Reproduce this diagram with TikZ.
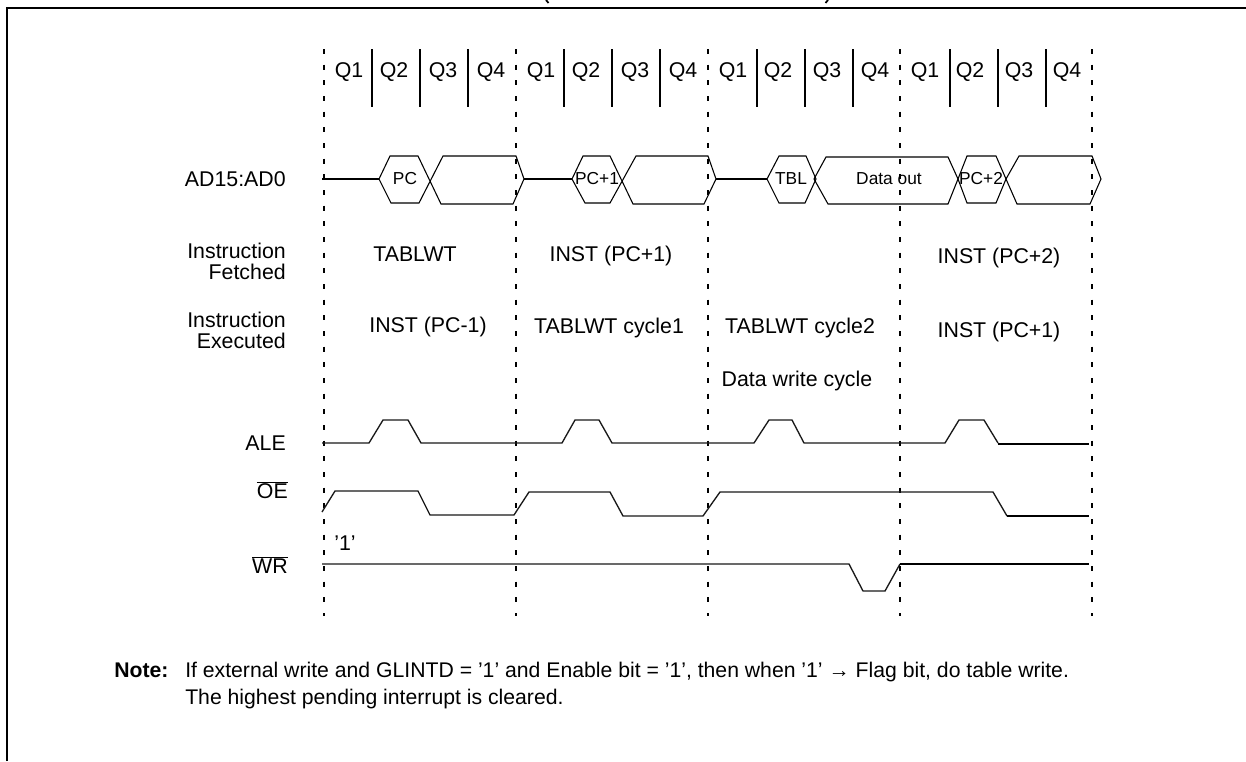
\documentclass[tikz,border=0pt]{standalone}
\usepackage{fontspec}
\setmainfont{Liberation Sans}
\tikzset{
  sig/.style={line width=1pt,line join=miter,black!90},
  thick bus/.style={line width=1.6pt},
  thin bus/.style={line width=0.8pt},
  clock/.style={line width=1.5pt,dash pattern=on 3.75pt off 8pt},
  qsep/.style={line width=1.3pt},
  lbl/.style={inner sep=0pt,font=\fontsize{16pt}{15.75pt}\selectfont},
  rlbl/.style={lbl,anchor=east,align=right},
  small/.style={inner sep=0pt,font=\fontsize{13pt}{14pt}\selectfont},
  notetext/.style={anchor=base west,inner sep=0pt,font=\fontsize{15.9pt}{16pt}\selectfont},
}
\begin{document}
\begin{tikzpicture}[x=0.75pt,y=-0.75pt]
\useasboundingbox (0,0) rectangle (1246,761);
% frame
\coordinate (f1) at (7,761); \coordinate (f2) at (7,8); \coordinate (f3) at (1246,8);
\draw[line width=1.5pt] (f1) -- (f2) -- (f3);
% clipped title brackets at the top edge
\draw[line width=1.3pt] (546,0) -- (548.5,3);
\draw[line width=1.3pt] (828,0) -- (825.5,3);
% clock lines
\foreach \x in {324,516,708,900,1092} \draw[clock] (\x,49) -- (\x,616);
% Q separators
\foreach \x in {372,420,468,564,612,660,757,805,853,950,998,1046} \draw[qsep] (\x,49) -- (\x,107);
% Q labels
\foreach \o/\c in {0/1,192/2,384/3,576/4} {
  \node[lbl] (qa\c) at (349+\o,72) {Q1};
  \node[lbl] (qb\c) at (394+\o,72) {Q2};
  \node[lbl] (qc\c) at (443+\o,72) {Q3};
  \node[lbl] (qd\c) at (491+\o,72) {Q4};
}
% bus
\draw[thick bus] (322,179) -- (379,179);
\draw[thick bus] (524,179) -- (572,179);
\draw[thick bus] (716,179) -- (767,179);
\draw[thin bus] (379,179) -- (390,156) -- (418,156) -- (441,204) -- (513,204) -- (524,179) -- (516,156) -- (443,156) -- (419,203) -- (391,203) -- cycle;
\draw[thin bus] (572,179) -- (583,156) -- (610,156) -- (633,204) -- (704,204) -- (716,179) -- (708,156) -- (636,156) -- (610,203) -- (585,203) -- cycle;
\draw[thin bus] (767,179) -- (779,156) -- (806,156) -- (816,179) -- (805,203) -- (779,203) -- cycle;
\draw[thin bus] (814,179) -- (826,157) -- (948,157) -- (958,179) -- (948,204) -- (828,204) -- cycle;
\draw[thin bus] (958,179) -- (967,156) -- (996,156) -- (1006,179) -- (996,203) -- (967,203) -- cycle;
\draw[thin bus] (1006,179) -- (1019,156) -- (1092,156) -- (1101,179) -- (1090,204) -- (1017,204) -- cycle;
\node[small] (pc) at (405,179) {PC};
\node[small] (pc1) at (597,179) {PC+1};
\node[small] (tbl) at (791,179) {TBL};
\node[small] (dout) at (889,179) {Data out};
\node[small] (pc2) at (981,179) {PC+2};
% row labels
\node[rlbl] (ad) at (286,179) {AD15:AD0};
\node[rlbl] (fet) at (286,261) {Instruction\\Fetched};
\node[rlbl] (exe) at (286,330) {Instruction\\Executed};
\node[rlbl] (ale) at (286,443) {ALE};
\node[rlbl] (oe) at (288,490) {$\overline{\mbox{OE}}$};
\node[rlbl] (wr) at (288,565) {$\overline{\mbox{WR}}$};
% cycle labels
\node[lbl] (t1) at (415,254) {TABLWT};
\node[lbl] (t2) at (611,256) {INST (PC+1)};
\node[lbl] (t3) at (999,258) {INST (PC+2)};
\node[lbl] (t4) at (428,327) {INST (PC-1)};
\node[lbl] (t5) at (609,328) {TABLWT cycle1};
\node[lbl] (t6) at (800,328) {TABLWT cycle2};
\node[lbl] (t7) at (999,332) {INST (PC+1)};
\node[lbl] (t8) at (797,381) {Data write cycle};
\node[lbl] (one) at (345,543) {’1’};
% waves
\draw[sig] (322,443) -- (369,443) -- (383,420) -- (408,420) -- (421,443) -- (562,443) -- (575,420) -- (599,420) -- (612,443) -- (754,443) -- (769,420) -- (792,420) -- (804,443) -- (945,443) -- (959,420) -- (984,420) -- (998,443);
\draw[thick bus] (998,444) -- (1089,444);
\draw[sig] (322,512) -- (335,491) -- (418,491) -- (430,515) -- (514,515) -- (529,492) -- (610,492) -- (623,516) -- (703,516) -- (720,492) -- (993,492) -- (1007,516);
\draw[thick bus] (1007,516) -- (1089,516);
\draw[sig] (322,564) -- (849,564) -- (863,591) -- (885,591) -- (900,564);
\draw[thick bus] (900,564) -- (1089,564);
% note
\node[notetext] (note) at (114,677) {\bfseries Note:};
\node[notetext] (n1) at (185,677) {If external write and GLINTD = ’1’ and Enable bit = ’1’, then when ’1’ → Flag bit, do table write.};
\node[notetext] (n2) at (185,704) {The highest pending interrupt is cleared.};
\end{tikzpicture}
\end{document}
